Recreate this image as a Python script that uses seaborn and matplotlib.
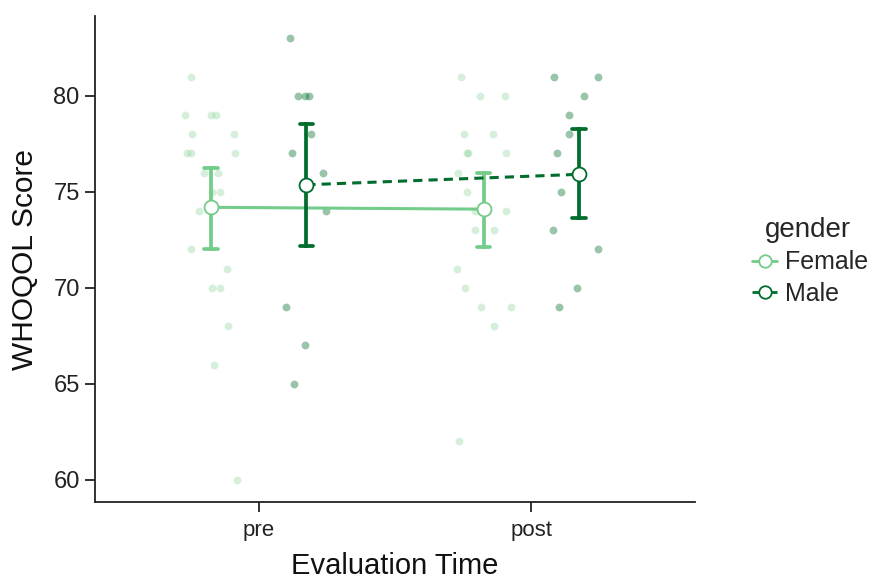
import numpy as np
import pandas as pd
import matplotlib
matplotlib.use("Agg")
import matplotlib.pyplot as plt
from matplotlib.lines import Line2D
import seaborn as sns

# WHOQOL scores by evaluation time and gender
times = ["pre", "post"]
genders = ["Female", "Male"]
female_pre = [81, 79, 79, 79, 78, 78, 77, 77, 77, 76, 76, 75, 75, 74, 72, 71, 70, 70, 68, 66, 60]
male_pre = [83, 80, 80, 80, 78, 77, 76, 74, 69, 67, 65]
female_post = [81, 80, 80, 78, 78, 77, 77, 77, 76, 75, 74, 74, 74, 73, 73, 71, 70, 69, 69, 68, 62]
male_post = [81, 81, 80, 79, 78, 77, 75, 73, 72, 70, 69]
y_ticks = [60, 65, 70, 75, 80]

palette = {"Female": "#74cc8a", "Male": "#006d2c"}
point_alpha = {"Female": 0.30, "Male": 0.40}
line_styles = {"Female": "-", "Male": "--"}

rows = []
for t, g, vals in [("pre", "Female", female_pre), ("pre", "Male", male_pre),
                   ("post", "Female", female_post), ("post", "Male", male_post)]:
    rows.extend((t, g, v) for v in vals)
df = pd.DataFrame(rows, columns=["time", "gender", "score"])

sns.set_theme(style="ticks")
plt.rcParams["font.family"] = ["Liberation Sans", "DejaVu Sans"]

fig = plt.figure(figsize=(8.77, 5.81), dpi=100)
ax = fig.add_axes([95 / 877, 79 / 581, 600 / 877, 486 / 581])

# raw scores, dodged by gender and jittered horizontally
rng = np.random.default_rng(11)
dodge_half = 0.175
time_pos = {t: i for i, t in enumerate(times)}
gender_shift = {"Female": -dodge_half, "Male": dodge_half}
df["xpos"] = (df["time"].map(time_pos) + df["gender"].map(gender_shift)
              + rng.uniform(-0.1, 0.1, len(df)))

for g in genders:
    sns.scatterplot(data=df[df["gender"] == g], x="xpos", y="score",
                    color=palette[g], alpha=point_alpha[g], s=32,
                    linewidth=0, legend=False, ax=ax, zorder=1)

# group means with bootstrap 95% CI
sns.pointplot(data=df, x="time", y="score", hue="gender", order=times,
              hue_order=genders, palette=palette, dodge=2 * dodge_half,
              errorbar=("ci", 95), seed=3, capsize=0.05,
              markers="o", linestyles=[line_styles[g] for g in genders],
              linewidth=2.2, markersize=10, markerfacecolor="white",
              markeredgewidth=1.3, err_kws={"linewidth": 2.7},
              legend=False, ax=ax)

# put the hollow markers above the error bars
for line in list(ax.lines):
    if line.get_marker() == "o":
        xd, yd = line.get_data()
        ax.plot(xd, yd, linestyle="none", marker="o", markersize=10,
                markerfacecolor="white", markeredgecolor=line.get_color(),
                markeredgewidth=1.3, zorder=5)
        line.set_marker("None")
        if line.get_linestyle() == "--":
            line.set_dashes([3.0, 2.0])

ax.set_xlim(-0.6, 1.6)
ax.set_ylim(58.85, 84.15)
ax.set_xticks(range(len(times)))
ax.set_xticklabels(times)
ax.set_yticks(y_ticks)
ax.tick_params(axis="y", labelsize=17, length=7, width=1.3, color="#222222",
               labelcolor="#222222", pad=4)
ax.tick_params(axis="x", labelsize=16, length=7, width=1.3, color="#222222",
               labelcolor="#222222", pad=6)
ax.set_xlabel("Evaluation Time", fontsize=21, labelpad=8, color="#111111")
ax.set_ylabel("WHOQOL Score", fontsize=21.5, labelpad=10, color="#111111")
sns.despine(ax=ax)
for side in ["left", "bottom"]:
    ax.spines[side].set_linewidth(1.3)
    ax.spines[side].set_color("#222222")

handles = [Line2D([0], [0], color=palette[g], linestyle=line_styles[g], linewidth=2,
                  marker="o", markersize=9, markerfacecolor="white",
                  markeredgewidth=1.3) for g in genders]
leg = fig.legend(handles, genders, title="gender", loc="center left",
                 bbox_to_anchor=(0.838, 0.55), frameon=False, fontsize=18,
                 title_fontsize=20, handlelength=1.0, handletextpad=0.3,
                 labelspacing=0.3, borderpad=0.2)
leg._legend_box.align = "left"
leg.get_title().set_position((12, 0))

fig.savefig("out.png", dpi=100)
